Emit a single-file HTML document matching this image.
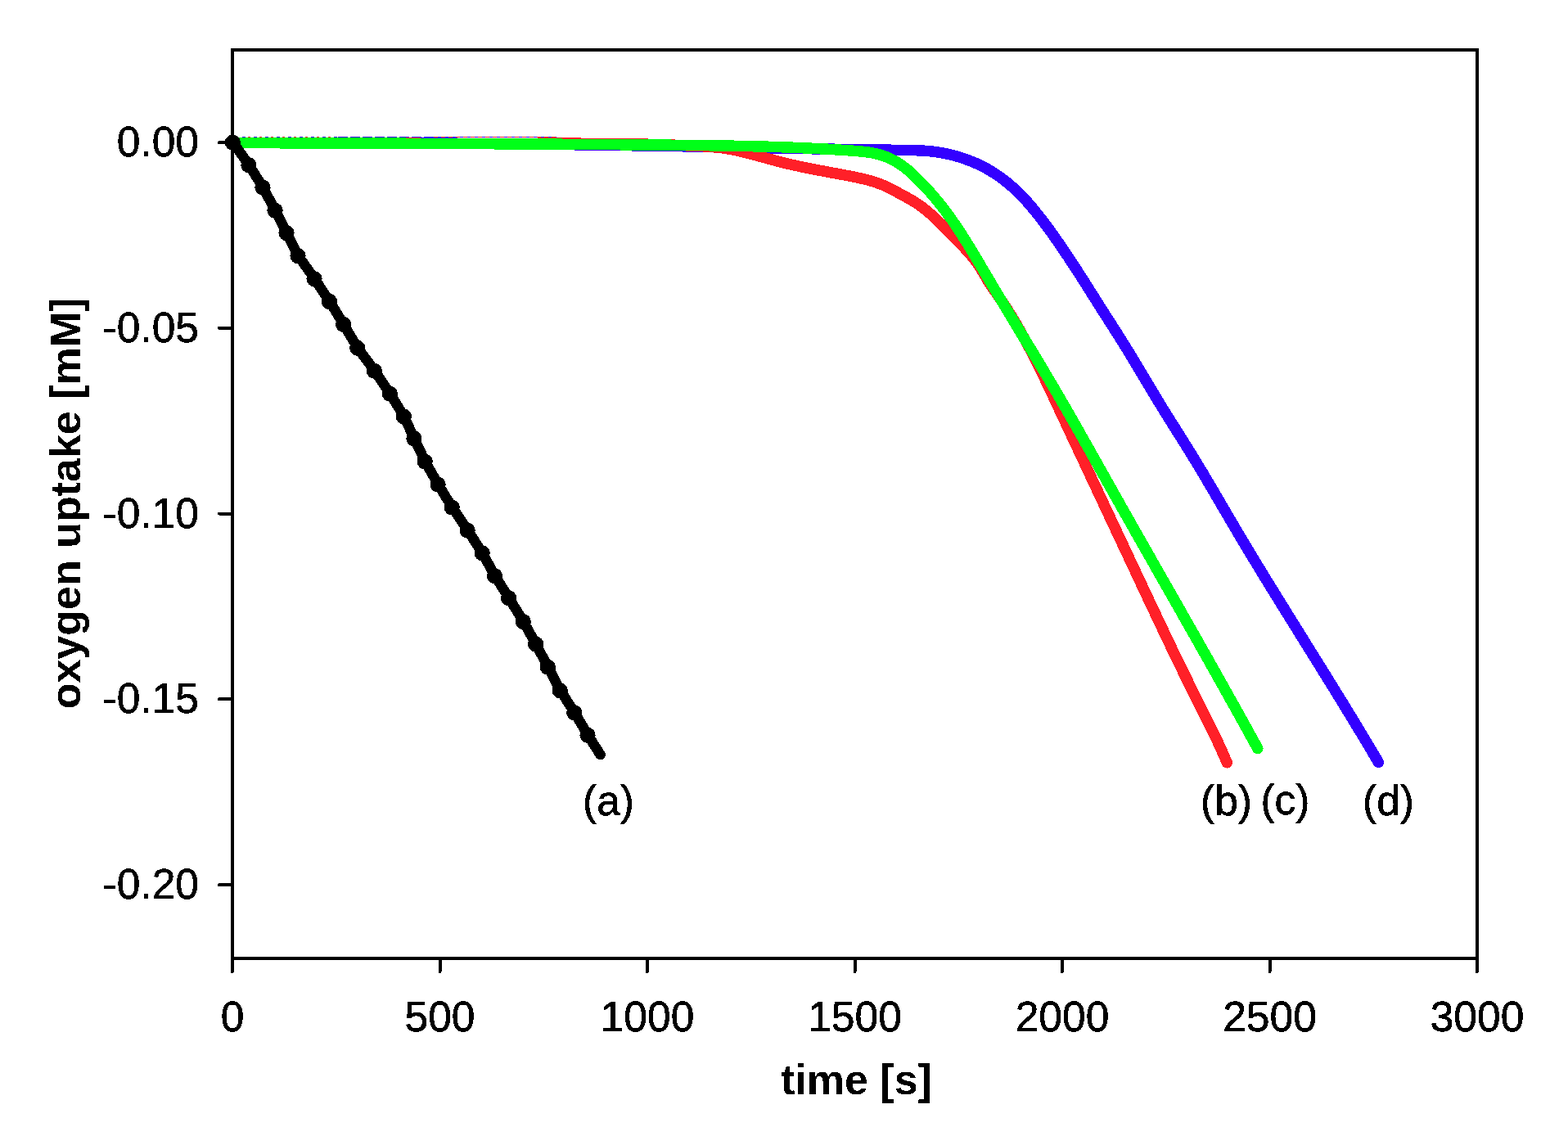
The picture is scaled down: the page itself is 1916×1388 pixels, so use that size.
<!DOCTYPE html>
<html><head><meta charset="utf-8"><title>oxygen uptake</title>
<style>html,body{margin:0;padding:0;background:#fff;overflow:hidden}svg{display:block}</style>
</head><body>
<svg width="1916" height="1388" viewBox="0 0 1916 1388">
<defs><filter id="crisp" x="0" y="0" width="100%" height="100%" color-interpolation-filters="sRGB"><feComponentTransfer><feFuncA type="discrete" tableValues="0 1"/></feComponentTransfer></filter></defs>
<rect x="0" y="0" width="1916" height="1388" fill="#fff"/>
<g fill="none" stroke-linecap="round" stroke-linejoin="round" stroke-width="13.5" shape-rendering="crispEdges">
<path d="M283.99,174.48 L288.50,174.47 L293.01,174.46 L297.52,174.45 L302.03,174.44 L306.54,174.43 L311.05,174.42 L315.55,174.42 L320.06,174.41 L324.57,174.41 L329.08,174.40 L333.59,174.40 L338.10,174.40 L342.60,174.40 L347.11,174.40 L351.62,174.40 L356.13,174.40 L360.64,174.40 L365.14,174.40 L369.65,174.41 L374.16,174.41 L378.67,174.42 L383.18,174.42 L387.68,174.43 L392.19,174.44 L396.70,174.45 L401.21,174.45 L405.71,174.46 L410.22,174.48 L414.73,174.49 L419.24,174.50 L423.74,174.51 L428.25,174.53 L432.76,174.54 L437.27,174.56 L441.77,174.57 L446.28,174.59 L450.79,174.61 L455.30,174.63 L459.80,174.65 L464.31,174.67 L468.82,174.69 L473.33,174.71 L477.83,174.73 L482.34,174.75 L486.85,174.78 L491.36,174.80 L495.86,174.83 L500.37,174.85 L504.88,174.88 L509.38,174.91 L513.89,174.94 L518.40,174.97 L522.91,174.99 L527.41,175.03 L531.92,175.06 L536.43,175.09 L540.93,175.12 L545.44,175.16 L549.95,175.19 L554.46,175.22 L558.96,175.26 L563.47,175.30 L567.98,175.33 L572.48,175.37 L576.99,175.41 L581.50,175.45 L586.01,175.49 L590.51,175.53 L595.02,175.57 L599.53,175.62 L604.03,175.66 L608.54,175.70 L613.05,175.75 L617.55,175.79 L622.06,175.84 L626.57,175.88 L631.08,175.93 L635.58,175.98 L640.09,176.03 L644.60,176.08 L649.10,176.13 L653.61,176.18 L658.12,176.23 L662.62,176.28 L667.13,176.33 L671.64,176.39 L676.15,176.44 L680.65,176.50 L685.16,176.55 L689.67,176.61 L694.17,176.67 L698.68,176.72 L703.19,176.78 L707.69,176.84 L712.20,176.90 L716.71,176.96 L721.22,177.02 L725.72,177.08 L730.23,177.15 L734.74,177.21 L739.24,177.27 L743.75,177.34 L748.26,177.40 L752.77,177.47 L757.27,177.53 L761.78,177.60 L766.29,177.67 L770.79,177.74 L775.30,177.81 L779.81,177.88 L784.32,177.95 L788.82,178.02 L793.33,178.09 L797.84,178.16 L802.35,178.23 L806.85,178.31 L811.36,178.38 L815.87,178.46 L820.37,178.53 L824.88,178.61 L829.39,178.68 L833.90,178.76 L838.40,178.84 L842.91,178.92 L847.42,179.00 L851.93,179.08 L856.43,179.16 L860.94,179.24 L865.45,179.32 L869.96,179.40 L874.47,179.49 L878.97,179.57 L883.48,179.65 L887.99,179.74 L892.50,179.82 L897.00,179.91 L901.51,180.00 L906.02,180.08 L910.53,180.17 L915.04,180.26 L919.54,180.35 L924.05,180.44 L928.56,180.52 L933.07,180.61 L937.57,180.70 L942.08,180.79 L946.59,180.88 L951.10,180.97 L955.61,181.06 L960.11,181.15 L964.62,181.24 L969.13,181.32 L973.64,181.41 L978.14,181.50 L982.65,181.59 L987.16,181.67 L991.66,181.76 L996.17,181.84 L1000.68,181.92 L1005.18,182.00 L1009.69,182.09 L1014.20,182.16 L1018.70,182.24 L1023.21,182.32 L1027.72,182.40 L1032.22,182.47 L1036.73,182.54 L1041.23,182.62 L1045.74,182.69 L1050.24,182.75 L1054.75,182.82 L1059.25,182.89 L1063.76,182.95 L1068.26,183.01 L1072.76,183.07 L1077.27,183.12 L1081.77,183.18 L1086.27,183.23 L1090.78,183.28 L1095.28,183.33 L1099.78,183.37 L1104.28,183.42 L1108.78,183.47 L1113.28,183.55 L1117.78,183.66 L1122.27,183.82 L1126.76,184.04 L1131.25,184.33 L1135.73,184.71 L1140.21,185.19 L1144.68,185.78 L1149.13,186.48 L1153.58,187.29 L1158.01,188.21 L1162.41,189.24 L1166.79,190.37 L1171.15,191.62 L1175.47,192.97 L1179.75,194.43 L1184.00,196.00 L1188.20,197.68 L1192.35,199.46 L1196.45,201.34 L1200.50,203.33 L1204.49,205.43 L1208.42,207.63 L1212.29,209.93 L1216.08,212.33 L1219.81,214.84 L1223.46,217.44 L1227.04,220.14 L1230.56,222.92 L1234.01,225.80 L1237.39,228.75 L1240.71,231.78 L1243.96,234.88 L1247.15,238.05 L1250.28,241.29 L1253.35,244.59 L1256.36,247.95 L1259.31,251.35 L1262.22,254.81 L1265.08,258.30 L1267.90,261.82 L1270.69,265.37 L1273.46,268.94 L1276.19,272.54 L1278.89,276.15 L1281.57,279.79 L1284.22,283.44 L1286.85,287.12 L1289.45,290.80 L1292.04,294.50 L1294.61,298.21 L1297.16,301.93 L1299.69,305.65 L1302.21,309.39 L1304.71,313.13 L1307.20,316.88 L1309.68,320.64 L1312.14,324.40 L1314.60,328.17 L1317.04,331.94 L1319.48,335.73 L1321.91,339.51 L1324.33,343.31 L1326.74,347.11 L1329.15,350.91 L1331.55,354.72 L1333.96,358.53 L1336.36,362.34 L1338.76,366.15 L1341.17,369.96 L1343.58,373.77 L1345.99,377.57 L1348.41,381.38 L1350.84,385.18 L1353.27,388.98 L1355.70,392.77 L1358.13,396.57 L1360.55,400.37 L1362.98,404.17 L1365.40,407.98 L1367.81,411.79 L1370.22,415.60 L1372.61,419.42 L1375.00,423.24 L1377.37,427.08 L1379.73,430.92 L1382.08,434.76 L1384.42,438.62 L1386.75,442.47 L1389.07,446.34 L1391.39,450.20 L1393.70,454.07 L1396.01,457.94 L1398.32,461.81 L1400.63,465.68 L1402.94,469.55 L1405.25,473.42 L1407.56,477.29 L1409.88,481.15 L1412.20,485.01 L1414.54,488.87 L1416.88,492.72 L1419.23,496.56 L1421.59,500.40 L1423.96,504.23 L1426.35,508.06 L1428.74,511.87 L1431.14,515.69 L1433.54,519.50 L1435.95,523.31 L1438.36,527.12 L1440.77,530.93 L1443.17,534.74 L1445.58,538.56 L1447.97,542.37 L1450.36,546.19 L1452.74,550.02 L1455.11,553.86 L1457.47,557.70 L1459.82,561.54 L1462.16,565.40 L1464.49,569.25 L1466.81,573.12 L1469.12,576.98 L1471.43,580.85 L1473.73,584.73 L1476.03,588.61 L1478.32,592.49 L1480.60,596.37 L1482.89,600.26 L1485.17,604.15 L1487.45,608.04 L1489.72,611.93 L1492.00,615.82 L1494.27,619.71 L1496.55,623.60 L1498.83,627.49 L1501.10,631.38 L1503.38,635.27 L1505.67,639.16 L1507.95,643.04 L1510.24,646.92 L1512.54,650.80 L1514.84,654.68 L1517.15,658.55 L1519.46,662.42 L1521.77,666.29 L1524.09,670.15 L1526.42,674.01 L1528.75,677.87 L1531.08,681.73 L1533.42,685.58 L1535.76,689.43 L1538.11,693.28 L1540.45,697.13 L1542.81,700.97 L1545.16,704.82 L1547.52,708.66 L1549.88,712.50 L1552.24,716.34 L1554.61,720.17 L1556.97,724.01 L1559.34,727.84 L1561.72,731.67 L1564.09,735.51 L1566.47,739.34 L1568.84,743.17 L1571.22,747.00 L1573.60,750.83 L1575.98,754.65 L1578.36,758.48 L1580.74,762.31 L1583.12,766.14 L1585.51,769.96 L1587.89,773.79 L1590.27,777.62 L1592.66,781.44 L1595.04,785.27 L1597.42,789.09 L1599.81,792.92 L1602.19,796.75 L1604.57,800.58 L1606.95,804.40 L1609.33,808.23 L1611.71,812.06 L1614.09,815.89 L1616.47,819.72 L1618.85,823.55 L1621.22,827.38 L1623.60,831.21 L1625.97,835.04 L1628.34,838.88 L1630.71,842.71 L1633.07,846.55 L1635.44,850.39 L1637.80,854.22 L1640.16,858.06 L1642.52,861.90 L1644.88,865.75 L1647.23,869.59 L1649.58,873.44 L1651.93,877.29 L1654.27,881.13 L1656.61,884.99 L1658.95,888.84 L1661.29,892.69 L1663.62,896.55 L1665.95,900.41 L1668.27,904.27 L1670.59,908.13 L1672.91,912.00 L1675.22,915.87 L1677.53,919.74 L1679.83,923.61 L1682.13,927.49 L1684.43,931.37" stroke="#3300ff"/>
<path d="M284.00,174.63 L288.10,174.62 L292.20,174.61 L296.29,174.60 L300.39,174.60 L304.49,174.59 L308.59,174.59 L312.69,174.59 L316.79,174.59 L320.88,174.59 L324.98,174.59 L329.08,174.59 L333.18,174.60 L337.28,174.60 L341.38,174.61 L345.47,174.62 L349.57,174.62 L353.67,174.63 L357.77,174.64 L361.87,174.65 L365.96,174.66 L370.06,174.67 L374.16,174.69 L378.26,174.70 L382.36,174.71 L386.45,174.73 L390.55,174.74 L394.65,174.76 L398.75,174.77 L402.84,174.79 L406.94,174.80 L411.04,174.82 L415.14,174.84 L419.24,174.86 L423.33,174.87 L427.43,174.89 L431.53,174.91 L435.63,174.93 L439.72,174.95 L443.82,174.96 L447.92,174.98 L452.02,175.00 L456.12,175.02 L460.21,175.04 L464.31,175.06 L468.41,175.08 L472.51,175.09 L476.60,175.11 L480.70,175.13 L484.80,175.15 L488.90,175.16 L493.00,175.18 L497.09,175.20 L501.19,175.21 L505.29,175.23 L509.39,175.24 L513.48,175.26 L517.58,175.27 L521.68,175.28 L525.78,175.30 L529.88,175.31 L533.97,175.32 L538.07,175.33 L542.17,175.34 L546.27,175.35 L550.37,175.36 L554.46,175.37 L558.56,175.37 L562.66,175.38 L566.76,175.38 L570.86,175.39 L574.95,175.39 L579.05,175.39 L583.15,175.39 L587.25,175.39 L591.35,175.39 L595.45,175.38 L599.54,175.38 L603.64,175.37 L607.74,175.37 L611.84,175.36 L615.94,175.35 L620.04,175.34 L624.13,175.33 L628.23,175.32 L632.33,175.31 L636.43,175.30 L640.53,175.29 L644.63,175.28 L648.72,175.27 L652.82,175.26 L656.92,175.25 L661.02,175.24 L665.12,175.23 L669.22,175.23 L673.32,175.22 L677.41,175.22 L681.51,175.22 L685.61,175.21 L689.71,175.22 L693.81,175.22 L697.91,175.22 L702.00,175.23 L706.10,175.24 L710.20,175.25 L714.30,175.27 L718.40,175.29 L722.49,175.31 L726.59,175.33 L730.69,175.36 L734.79,175.39 L738.89,175.43 L742.98,175.47 L747.08,175.51 L751.18,175.55 L755.28,175.60 L759.37,175.66 L763.47,175.72 L767.57,175.78 L771.66,175.85 L775.76,175.93 L779.86,176.00 L783.95,176.09 L788.05,176.18 L792.15,176.27 L796.24,176.37 L800.34,176.48 L804.44,176.59 L808.53,176.71 L812.63,176.84 L816.72,176.97 L820.82,177.11 L824.91,177.25 L829.01,177.40 L833.11,177.56 L837.20,177.73 L841.30,177.90 L845.39,178.08 L849.48,178.27 L853.58,178.47 L857.67,178.68 L861.76,178.92 L865.85,179.20 L869.93,179.51 L874.01,179.87 L878.08,180.29 L882.14,180.78 L886.19,181.34 L890.23,181.98 L894.26,182.71 L898.28,183.51 L902.29,184.37 L906.29,185.29 L910.28,186.26 L914.26,187.27 L918.23,188.32 L922.20,189.38 L926.15,190.46 L930.10,191.54 L934.04,192.63 L937.98,193.71 L941.92,194.78 L945.87,195.84 L949.82,196.89 L953.79,197.91 L957.76,198.92 L961.74,199.89 L965.73,200.84 L969.73,201.76 L973.73,202.65 L977.73,203.51 L981.74,204.35 L985.76,205.17 L989.77,205.97 L993.80,206.75 L997.82,207.53 L1001.84,208.29 L1005.87,209.04 L1009.90,209.79 L1013.93,210.54 L1017.96,211.28 L1021.99,212.03 L1026.02,212.78 L1030.05,213.54 L1034.08,214.30 L1038.11,215.08 L1042.14,215.88 L1046.16,216.70 L1050.17,217.55 L1054.17,218.45 L1058.15,219.41 L1062.10,220.45 L1066.02,221.58 L1069.91,222.80 L1073.76,224.14 L1077.57,225.61 L1081.32,227.21 L1085.03,228.95 L1088.69,230.80 L1092.33,232.72 L1095.96,234.69 L1099.57,236.66 L1103.19,238.63 L1106.81,240.59 L1110.40,242.57 L1113.96,244.60 L1117.46,246.70 L1120.89,248.91 L1124.24,251.23 L1127.52,253.65 L1130.73,256.17 L1133.88,258.77 L1136.98,261.43 L1140.04,264.15 L1143.06,266.90 L1146.05,269.70 L1149.00,272.54 L1151.93,275.41 L1154.84,278.31 L1157.73,281.22 L1160.60,284.16 L1163.46,287.12 L1166.31,290.08 L1169.16,293.05 L1172.00,296.02 L1174.83,299.00 L1177.64,302.00 L1180.42,305.02 L1183.16,308.07 L1185.84,311.15 L1188.45,314.28 L1190.99,317.46 L1193.44,320.71 L1195.80,324.01 L1198.05,327.39 L1200.18,330.85 L1202.23,334.37 L1204.25,337.91 L1206.30,341.42 L1208.44,344.89 L1210.66,348.31 L1212.95,351.68 L1215.28,355.03 L1217.64,358.37 L1219.98,361.72 L1222.31,365.09 L1224.61,368.49 L1226.87,371.91 L1229.11,375.35 L1231.31,378.81 L1233.49,382.28 L1235.65,385.78 L1237.77,389.29 L1239.88,392.81 L1241.95,396.34 L1244.01,399.89 L1246.04,403.45 L1248.05,407.01 L1250.04,410.60 L1252.01,414.19 L1253.96,417.79 L1255.90,421.40 L1257.81,425.02 L1259.71,428.65 L1261.59,432.29 L1263.46,435.93 L1265.32,439.58 L1267.16,443.24 L1268.98,446.91 L1270.80,450.58 L1272.60,454.26 L1274.40,457.95 L1276.18,461.63 L1277.96,465.33 L1279.73,469.02 L1281.49,472.72 L1283.25,476.43 L1285.00,480.13 L1286.75,483.84 L1288.49,487.55 L1290.24,491.26 L1291.98,494.97 L1293.71,498.69 L1295.45,502.40 L1297.19,506.11 L1298.93,509.82 L1300.67,513.53 L1302.41,517.24 L1304.15,520.96 L1305.89,524.67 L1307.63,528.38 L1309.36,532.09 L1311.10,535.80 L1312.84,539.51 L1314.58,543.22 L1316.32,546.93 L1318.06,550.64 L1319.80,554.35 L1321.55,558.06 L1323.29,561.77 L1325.03,565.47 L1326.77,569.18 L1328.51,572.89 L1330.25,576.60 L1331.99,580.31 L1333.73,584.02 L1335.47,587.73 L1337.21,591.43 L1338.95,595.14 L1340.70,598.85 L1342.44,602.56 L1344.18,606.27 L1345.92,609.97 L1347.66,613.68 L1349.40,617.39 L1351.15,621.10 L1352.89,624.81 L1354.63,628.51 L1356.37,632.22 L1358.11,635.93 L1359.86,639.64 L1361.60,643.35 L1363.34,647.05 L1365.08,650.76 L1366.82,654.47 L1368.57,658.18 L1370.31,661.89 L1372.05,665.59 L1373.79,669.30 L1375.54,673.01 L1377.28,676.72 L1379.02,680.43 L1380.76,684.14 L1382.50,687.85 L1384.25,691.55 L1385.99,695.26 L1387.73,698.97 L1389.47,702.68 L1391.21,706.39 L1392.96,710.10 L1394.70,713.81 L1396.44,717.52 L1398.19,721.23 L1399.93,724.94 L1401.68,728.65 L1403.42,732.35 L1405.17,736.06 L1406.92,739.77 L1408.66,743.48 L1410.41,747.18 L1412.17,750.89 L1413.92,754.59 L1415.67,758.30 L1417.43,762.00 L1419.19,765.70 L1420.95,769.40 L1422.71,773.11 L1424.48,776.81 L1426.24,780.50 L1428.01,784.20 L1429.78,787.90 L1431.56,791.59 L1433.33,795.28 L1435.11,798.98 L1436.90,802.67 L1438.68,806.35 L1440.47,810.04 L1442.26,813.73 L1444.06,817.41 L1445.86,821.09 L1447.66,824.77 L1449.47,828.45 L1451.28,832.13 L1453.09,835.80 L1454.91,839.47 L1456.74,843.14 L1458.56,846.81 L1460.39,850.47 L1462.23,854.14 L1464.07,857.80 L1465.91,861.46 L1467.75,865.12 L1469.59,868.78 L1471.42,872.44 L1473.25,876.11 L1475.08,879.77 L1476.90,883.44 L1478.71,887.12 L1480.51,890.80 L1482.30,894.48 L1484.08,898.17 L1485.84,901.87 L1487.59,905.57 L1489.32,909.29 L1491.03,913.01 L1492.72,916.74 L1494.39,920.48 L1496.04,924.23 L1497.67,927.99 L1499.27,931.77" stroke="#ff2028"/>
<g stroke-width="1" stroke-linecap="butt" shape-rendering="crispEdges">
<path d="M296,167.5 H413" stroke="#3300ff" stroke-dasharray="4 10"/>
<path d="M303,167.5 H413" stroke="#ff2028" stroke-dasharray="3 11"/>
<path d="M413,167.5 H530" stroke="#3300ff" stroke-dasharray="12 3"/>
<path d="M530,167.5 H680" stroke="#ff2028" stroke-dasharray="5 4"/>
<path d="M535,167.5 H680" stroke="#3300ff" stroke-dasharray="4 5"/>
</g>
<path d="M284.01,174.64 L288.16,174.65 L292.32,174.66 L296.48,174.67 L300.63,174.67 L304.79,174.68 L308.94,174.69 L313.10,174.70 L317.25,174.71 L321.41,174.71 L325.57,174.72 L329.72,174.73 L333.88,174.74 L338.03,174.75 L342.19,174.76 L346.35,174.77 L350.50,174.78 L354.66,174.79 L358.82,174.80 L362.97,174.81 L367.13,174.82 L371.29,174.83 L375.44,174.84 L379.60,174.86 L383.76,174.87 L387.92,174.88 L392.07,174.89 L396.23,174.90 L400.39,174.91 L404.55,174.93 L408.70,174.94 L412.86,174.95 L417.02,174.97 L421.18,174.98 L425.33,174.99 L429.49,175.01 L433.65,175.02 L437.81,175.03 L441.96,175.05 L446.12,175.06 L450.28,175.08 L454.44,175.09 L458.60,175.11 L462.75,175.12 L466.91,175.14 L471.07,175.15 L475.23,175.17 L479.39,175.18 L483.55,175.20 L487.70,175.22 L491.86,175.23 L496.02,175.25 L500.18,175.27 L504.34,175.28 L508.50,175.30 L512.65,175.32 L516.81,175.34 L520.97,175.36 L525.13,175.37 L529.29,175.39 L533.45,175.41 L537.60,175.43 L541.76,175.45 L545.92,175.47 L550.08,175.49 L554.24,175.51 L558.40,175.53 L562.55,175.55 L566.71,175.57 L570.87,175.59 L575.03,175.61 L579.19,175.63 L583.35,175.65 L587.50,175.68 L591.66,175.70 L595.82,175.72 L599.98,175.74 L604.14,175.76 L608.30,175.79 L612.45,175.81 L616.61,175.83 L620.77,175.86 L624.93,175.88 L629.09,175.90 L633.24,175.93 L637.40,175.95 L641.56,175.98 L645.72,176.00 L649.88,176.03 L654.03,176.05 L658.19,176.08 L662.35,176.10 L666.51,176.13 L670.66,176.15 L674.82,176.18 L678.98,176.21 L683.14,176.23 L687.29,176.26 L691.45,176.29 L695.61,176.32 L699.77,176.34 L703.92,176.37 L708.08,176.40 L712.24,176.43 L716.39,176.46 L720.55,176.49 L724.71,176.52 L728.86,176.55 L733.02,176.58 L737.18,176.61 L741.33,176.64 L745.49,176.67 L749.65,176.70 L753.80,176.73 L757.96,176.76 L762.11,176.79 L766.27,176.82 L770.43,176.85 L774.58,176.89 L778.74,176.92 L782.89,176.95 L787.05,176.98 L791.20,177.02 L795.36,177.05 L799.51,177.08 L803.67,177.12 L807.82,177.15 L811.98,177.19 L816.13,177.22 L820.29,177.26 L824.44,177.30 L828.60,177.34 L832.75,177.38 L836.91,177.42 L841.06,177.46 L845.22,177.50 L849.37,177.55 L853.52,177.60 L857.68,177.65 L861.83,177.70 L865.99,177.75 L870.14,177.81 L874.30,177.87 L878.45,177.93 L882.61,178.00 L886.76,178.07 L890.91,178.14 L895.07,178.22 L899.22,178.29 L903.38,178.38 L907.53,178.46 L911.69,178.55 L915.85,178.65 L920.00,178.75 L924.16,178.85 L928.31,178.96 L932.47,179.07 L936.62,179.19 L940.78,179.31 L944.94,179.43 L949.09,179.57 L953.25,179.70 L957.41,179.85 L961.56,180.00 L965.72,180.15 L969.88,180.31 L974.04,180.48 L978.20,180.65 L982.35,180.83 L986.51,181.01 L990.67,181.21 L994.83,181.41 L998.99,181.61 L1003.15,181.82 L1007.31,182.04 L1011.47,182.27 L1015.63,182.51 L1019.79,182.75 L1023.95,183.00 L1028.12,183.26 L1032.28,183.53 L1036.44,183.80 L1040.60,184.08 L1044.77,184.38 L1048.92,184.71 L1053.07,185.09 L1057.19,185.55 L1061.29,186.10 L1065.37,186.77 L1069.41,187.57 L1073.40,188.54 L1077.36,189.68 L1081.26,191.02 L1085.10,192.58 L1088.87,194.32 L1092.58,196.25 L1096.20,198.35 L1099.74,200.60 L1103.19,203.00 L1106.55,205.52 L1109.79,208.15 L1112.93,210.87 L1115.98,213.68 L1118.96,216.55 L1121.90,219.46 L1124.82,222.41 L1127.70,225.40 L1130.56,228.43 L1133.38,231.49 L1136.17,234.58 L1138.92,237.70 L1141.64,240.86 L1144.32,244.05 L1146.96,247.27 L1149.56,250.52 L1152.12,253.79 L1154.65,257.09 L1157.13,260.42 L1159.58,263.77 L1162.00,267.14 L1164.38,270.54 L1166.74,273.96 L1169.06,277.39 L1171.36,280.84 L1173.64,284.31 L1175.89,287.80 L1178.12,291.30 L1180.33,294.82 L1182.52,298.34 L1184.70,301.88 L1186.86,305.43 L1189.01,308.98 L1191.15,312.55 L1193.28,316.12 L1195.41,319.69 L1197.53,323.27 L1199.64,326.85 L1201.75,330.44 L1203.86,334.02 L1205.97,337.60 L1208.09,341.18 L1210.21,344.76 L1212.33,348.34 L1214.46,351.91 L1216.59,355.48 L1218.73,359.05 L1220.86,362.62 L1223.00,366.19 L1225.14,369.75 L1227.29,373.31 L1229.43,376.88 L1231.58,380.44 L1233.73,384.00 L1235.88,387.55 L1238.03,391.11 L1240.18,394.67 L1242.33,398.23 L1244.49,401.78 L1246.64,405.34 L1248.79,408.89 L1250.94,412.45 L1253.10,416.01 L1255.25,419.56 L1257.40,423.12 L1259.54,426.68 L1261.69,430.24 L1263.83,433.80 L1265.98,437.36 L1268.12,440.92 L1270.25,444.49 L1272.39,448.05 L1274.52,451.62 L1276.65,455.19 L1278.77,458.76 L1280.89,462.34 L1283.01,465.91 L1285.12,469.49 L1287.23,473.07 L1289.34,476.66 L1291.44,480.24 L1293.53,483.83 L1295.62,487.43 L1297.71,491.02 L1299.79,494.62 L1301.87,498.22 L1303.94,501.82 L1306.01,505.42 L1308.08,509.03 L1310.14,512.63 L1312.20,516.24 L1314.26,519.85 L1316.31,523.47 L1318.37,527.08 L1320.42,530.70 L1322.47,534.31 L1324.51,537.93 L1326.56,541.55 L1328.60,545.17 L1330.64,548.79 L1332.68,552.41 L1334.72,556.04 L1336.76,559.66 L1338.79,563.28 L1340.83,566.91 L1342.86,570.53 L1344.90,574.15 L1346.94,577.78 L1348.97,581.40 L1351.01,585.03 L1353.04,588.65 L1355.08,592.27 L1357.12,595.90 L1359.15,599.52 L1361.19,603.14 L1363.23,606.76 L1365.28,610.38 L1367.32,614.00 L1369.36,617.62 L1371.41,621.24 L1373.45,624.86 L1375.50,628.48 L1377.55,632.10 L1379.59,635.71 L1381.64,639.33 L1383.69,642.95 L1385.74,646.56 L1387.79,650.18 L1389.85,653.79 L1391.90,657.41 L1393.95,661.02 L1396.00,664.64 L1398.06,668.25 L1400.11,671.87 L1402.17,675.48 L1404.22,679.09 L1406.28,682.70 L1408.33,686.32 L1410.39,689.93 L1412.44,693.54 L1414.50,697.16 L1416.56,700.77 L1418.61,704.38 L1420.67,707.99 L1422.73,711.60 L1424.78,715.22 L1426.84,718.83 L1428.90,722.44 L1430.95,726.05 L1433.01,729.67 L1435.06,733.28 L1437.12,736.89 L1439.18,740.51 L1441.23,744.12 L1443.29,747.73 L1445.34,751.35 L1447.39,754.96 L1449.45,758.57 L1451.50,762.19 L1453.55,765.80 L1455.61,769.42 L1457.66,773.03 L1459.71,776.65 L1461.76,780.27 L1463.81,783.88 L1465.86,787.50 L1467.90,791.12 L1469.95,794.74 L1472.00,798.35 L1474.04,801.97 L1476.09,805.59 L1478.13,809.21 L1480.17,812.83 L1482.21,816.46 L1484.25,820.08 L1486.29,823.70 L1488.33,827.32 L1490.37,830.95 L1492.40,834.57 L1494.44,838.20 L1496.47,841.83 L1498.50,845.45 L1500.53,849.08 L1502.56,852.71 L1504.59,856.34 L1506.62,859.97 L1508.64,863.60 L1510.66,867.23 L1512.69,870.87 L1514.71,874.50 L1516.72,878.14 L1518.74,881.77 L1520.75,885.41 L1522.77,889.05 L1524.78,892.69 L1526.79,896.33 L1528.79,899.97 L1530.80,903.61 L1532.80,907.26 L1534.80,910.90 L1536.80,914.55" stroke="#00ff18"/>
</g>
<path d="M284.40,173.50 L303.90,201.00 L321.00,228.40 L336.00,256.50 L350.00,284.00 L364.00,312.00 L384.00,340.00 L402.50,367.80 L419.60,395.70 L436.70,424.60 L457.40,452.50 L476.30,480.40 L493.40,508.30 L506.00,535.30 L519.20,563.30 L535.10,591.40 L552.20,619.30 L571.10,647.30 L589.20,675.20 L604.50,703.10 L621.60,730.10 L639.30,758.90 L654.60,786.40 L669.40,814.50 L684.30,843.00 L701.80,870.20 L718.00,897.50 L733.60,922.10" fill="none" stroke="#000" stroke-width="12.5" stroke-linecap="round" stroke-linejoin="round" shape-rendering="crispEdges"/>
<circle cx="284.4" cy="174.2" r="9.6" fill="#000" shape-rendering="crispEdges"/>
<circle cx="303.9" cy="201.7" r="9.6" fill="#000" shape-rendering="crispEdges"/>
<circle cx="321.0" cy="229.1" r="9.6" fill="#000" shape-rendering="crispEdges"/>
<circle cx="336.0" cy="257.2" r="9.6" fill="#000" shape-rendering="crispEdges"/>
<circle cx="350.0" cy="284.7" r="9.6" fill="#000" shape-rendering="crispEdges"/>
<circle cx="364.0" cy="312.7" r="9.6" fill="#000" shape-rendering="crispEdges"/>
<circle cx="384.0" cy="340.7" r="9.6" fill="#000" shape-rendering="crispEdges"/>
<circle cx="402.5" cy="368.5" r="9.6" fill="#000" shape-rendering="crispEdges"/>
<circle cx="419.6" cy="396.4" r="9.6" fill="#000" shape-rendering="crispEdges"/>
<circle cx="436.7" cy="425.3" r="9.6" fill="#000" shape-rendering="crispEdges"/>
<circle cx="457.4" cy="453.2" r="9.6" fill="#000" shape-rendering="crispEdges"/>
<circle cx="476.3" cy="481.1" r="9.6" fill="#000" shape-rendering="crispEdges"/>
<circle cx="493.4" cy="509.0" r="9.6" fill="#000" shape-rendering="crispEdges"/>
<circle cx="506.0" cy="536.0" r="9.6" fill="#000" shape-rendering="crispEdges"/>
<circle cx="519.2" cy="564.0" r="9.6" fill="#000" shape-rendering="crispEdges"/>
<circle cx="535.1" cy="592.1" r="9.6" fill="#000" shape-rendering="crispEdges"/>
<circle cx="552.2" cy="620.0" r="9.6" fill="#000" shape-rendering="crispEdges"/>
<circle cx="571.1" cy="648.0" r="9.6" fill="#000" shape-rendering="crispEdges"/>
<circle cx="589.2" cy="675.9" r="9.6" fill="#000" shape-rendering="crispEdges"/>
<circle cx="604.5" cy="703.8" r="9.6" fill="#000" shape-rendering="crispEdges"/>
<circle cx="621.6" cy="730.8" r="9.6" fill="#000" shape-rendering="crispEdges"/>
<circle cx="639.3" cy="759.6" r="9.6" fill="#000" shape-rendering="crispEdges"/>
<circle cx="654.6" cy="787.1" r="9.6" fill="#000" shape-rendering="crispEdges"/>
<circle cx="669.4" cy="815.2" r="9.6" fill="#000" shape-rendering="crispEdges"/>
<circle cx="684.3" cy="843.7" r="9.6" fill="#000" shape-rendering="crispEdges"/>
<circle cx="701.8" cy="870.9" r="9.6" fill="#000" shape-rendering="crispEdges"/>
<circle cx="718.0" cy="898.2" r="9.6" fill="#000" shape-rendering="crispEdges"/>
<rect x="284" y="61" width="1521" height="1110" fill="none" stroke="#000" stroke-width="4"/>
<path d="M268,174.00 H283 M268,400.75 H283 M268,627.50 H283 M268,854.25 H283 M268,1081.00 H283 M284.00,1172 V1187 M537.50,1172 V1187 M791.00,1172 V1187 M1044.50,1172 V1187 M1298.00,1172 V1187 M1551.50,1172 V1187 M1805.00,1172 V1187" stroke="#000" stroke-width="4" stroke-linecap="round" fill="none" shape-rendering="crispEdges"/>
<g style="font-family:'Liberation Sans',Arial,sans-serif;font-size:51.5px" fill="#000" stroke="#000" stroke-width="0.6" filter="url(#crisp)">
<text x="243" y="191.00" text-anchor="end">0.00</text>
<text x="243" y="417.75" text-anchor="end">-0.05</text>
<text x="243" y="644.50" text-anchor="end">-0.10</text>
<text x="243" y="871.25" text-anchor="end">-0.15</text>
<text x="243" y="1098.00" text-anchor="end">-0.20</text>
<text x="284.00" y="1260.2" text-anchor="middle">0</text>
<text x="537.50" y="1260.2" text-anchor="middle">500</text>
<text x="791.00" y="1260.2" text-anchor="middle">1000</text>
<text x="1044.50" y="1260.2" text-anchor="middle">1500</text>
<text x="1298.00" y="1260.2" text-anchor="middle">2000</text>
<text x="1551.50" y="1260.2" text-anchor="middle">2500</text>
<text x="1805.00" y="1260.2" text-anchor="middle">3000</text>
<text x="743.5" text-anchor="middle" y="996">(a)</text>
<text x="1498.5" y="996" text-anchor="middle">(b)</text>
<text x="1570.5" y="994.5" text-anchor="middle">(c)</text>
<text x="1696.5" y="996" text-anchor="middle">(d)</text>
</g>
<g filter="url(#crisp)"><text x="1046.5" y="1337" text-anchor="middle" style="font-family:'Liberation Sans',Arial,sans-serif;font-size:52px;font-weight:bold">time [s]</text>
<text transform="translate(98,615) rotate(-90)" x="0" y="0" text-anchor="middle" style="font-family:'Liberation Sans',Arial,sans-serif;font-size:52px;font-weight:bold">oxygen uptake [mM]</text></g>
</svg>
</body></html>
